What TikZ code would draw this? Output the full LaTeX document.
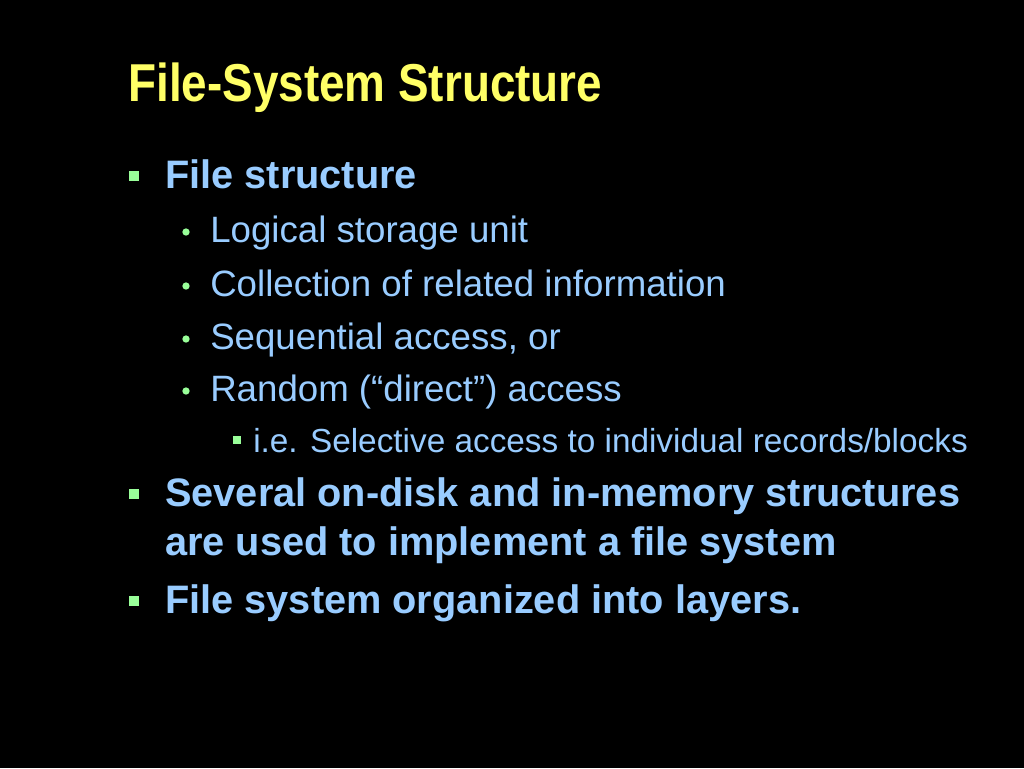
\documentclass[tikz,border=0pt]{standalone}
\usepackage{fontspec}
\setmainfont{Liberation Sans}
\definecolor{ttl}{HTML}{FFFF66}
\definecolor{txt}{HTML}{99CCFF}
\definecolor{bul}{HTML}{99FF99}
\begin{document}
\begin{tikzpicture}[x=0.75pt,y=-0.75pt,
  every node/.style={inner sep=0pt,anchor=base west},
  lone/.style={text=txt,font=\fontsize{29.8}{34}\selectfont\bfseries},
  ltwo/.style={text=txt,font=\fontsize{27.5}{32}\selectfont},
  lthree/.style={text=txt,font=\fontsize{25}{30}\selectfont},
  sq/.style={fill=bul,minimum size=8pt,anchor=center},
  sqs/.style={fill=bul,minimum size=6.5pt,anchor=center},
  dot/.style={fill=bul,circle,minimum size=5.5pt,anchor=center}]
\fill[black] (0,0) rectangle (1024,768);
\useasboundingbox (0,0) rectangle (1024,768);
\node[text=ttl,font=\fontsize{40}{46}\selectfont\bfseries,xscale=0.86] (title) at (128,101) {File-System Structure};
\node[lone] (a) at (165,188) {File structure};
\node[sq] (ba) at (134,176) {};
\node[ltwo] (a1) at (210,242) {Logical storage unit};
\node[dot] (b1) at (186,232) {};
\node[ltwo] (a2) at (210,296) {Collection of related information};
\node[dot] (b2) at (186,286) {};
\node[ltwo] (a3) at (210,349) {Sequential access, or};
\node[dot] (b3) at (186,339) {};
\node[ltwo] (a4) at (210,401) {Random (“direct”) access};
\node[dot] (b4) at (186,391) {};
\node[lthree] (a5) at (253,452) {i.e. Selective access to individual records/blocks};
\node[sqs] (b5) at (237,440) {};
\node[lone] (c) at (165,506) {Several on-disk and in-memory structures};
\node[sq] (bc) at (134,494) {};
\node[lone] (c2) at (165,555) {are used to implement a file system};
\node[lone] (d) at (165,613) {File system organized into layers.};
\node[sq] (bd) at (134,601) {};
\end{tikzpicture}
\end{document}
